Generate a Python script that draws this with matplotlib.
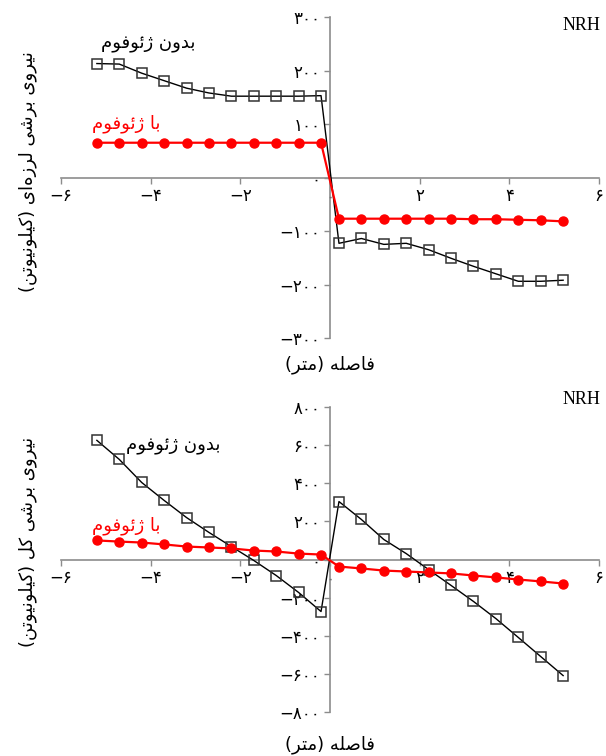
import matplotlib
matplotlib.use("Agg")
import matplotlib.pyplot as plt


# matplotlib has no arabic shaping, so letters are mapped to their
# presentation forms by hand and the string is reversed for display
FORMS = {
    'ا': ('\uFE8D', '\uFE8E', None, None),
    'ب': ('\uFE8F', '\uFE90', '\uFE91', '\uFE92'),
    'ت': ('\uFE95', '\uFE96', '\uFE97', '\uFE98'),
    'د': ('\uFEA9', '\uFEAA', None, None),
    'ر': ('\uFEAD', '\uFEAE', None, None),
    'ز': ('\uFEAF', '\uFEB0', None, None),
    'ژ': ('\uFB8A', '\uFB8B', None, None),
    'ش': ('\uFEB5', '\uFEB6', '\uFEB7', '\uFEB8'),
    'ص': ('\uFEB9', '\uFEBA', '\uFEBB', '\uFEBC'),
    'ف': ('\uFED1', '\uFED2', '\uFED3', '\uFED4'),
    'ک': ('\uFB8E', '\uFB8F', '\uFB90', '\uFB91'),
    'ل': ('\uFEDD', '\uFEDE', '\uFEDF', '\uFEE0'),
    'م': ('\uFEE1', '\uFEE2', '\uFEE3', '\uFEE4'),
    'ن': ('\uFEE5', '\uFEE6', '\uFEE7', '\uFEE8'),
    'ه': ('\uFEE9', '\uFEEA', '\uFEEB', '\uFEEC'),
    'و': ('\uFEED', '\uFEEE', None, None),
    'ی': ('\uFBFC', '\uFBFD', '\uFBFE', '\uFBFF'),
    'ئ': ('\uFE89', '\uFE8A', '\uFE8B', '\uFE8C'),
}
MIRROR = {'(': ')', ')': '('}
PERSIAN_DIGITS = str.maketrans('0123456789-', '۰۱۲۳۴۵۶۷۸۹\u2212')


def fa(text):
    out = []
    for i, c in enumerate(text):
        if c == '\u200c':
            continue
        if c not in FORMS:
            out.append(MIRROR.get(c, c))
            continue
        prev = text[i - 1] if i > 0 else None
        nxt = text[i + 1] if i + 1 < len(text) else None
        join_prev = prev in FORMS and FORMS[prev][2] is not None
        join_next = nxt in FORMS and FORMS[c][2] is not None
        iso, fin, ini, med = FORMS[c]
        if join_prev and join_next:
            out.append(med)
        elif join_prev:
            out.append(fin)
        elif join_next:
            out.append(ini)
        else:
            out.append(iso)
    return ''.join(reversed(out))


def num(v):
    return str(int(v)).translate(PERSIAN_DIGITS)


distance = [-5.2, -4.7, -4.2, -3.7, -3.2, -2.7, -2.2, -1.7, -1.2, -0.7, -0.2,
            0.2, 0.7, 1.2, 1.7, 2.2, 2.7, 3.2, 3.7, 4.2, 4.7, 5.2]

seismic_no_geofoam = [213, 212, 195, 181, 167, 158, 152, 152, 152, 152, 153,
                      -123, -114, -125, -123, -135, -151, -166, -180, -194, -194, -192]
seismic_geofoam = [65, 65, 65, 65, 65, 65, 65, 65, 65, 65, 65,
                   -77, -77, -77, -77, -77, -77, -78, -78, -79, -80, -82]

total_no_geofoam = [625, 525, 404, 310, 220, 142, 68, -5, -84, -173, -273,
                    304, 210, 105, 31, -53, -136, -220, -310, -409, -509, -609]
total_geofoam = [100, 94, 89, 79, 68, 63, 58, 47, 42, 31, 26,
                 -37, -47, -58, -63, -68, -73, -84, -94, -105, -115, -126]

x_ticks = [-6, -4, -2, 0, 2, 4, 6]
top_yticks = [-300, -200, -100, 0, 100, 200, 300]
bottom_yticks = [-800, -600, -400, -200, 0, 200, 400, 600, 800]

label_no = 'بدون ژئوفوم'
label_with = 'با ژئوفوم'
xlabel = 'فاصله (متر)'
top_ylabel = 'نیروی برشی لرزه‌ای (کیلونیوتن)'
bottom_ylabel = 'نیروی برشی کل (کیلونیوتن)'

AR = ['DejaVu Sans']
W, H = 606, 756
fig = plt.figure(figsize=(W / 100, H / 100), dpi=100)


def make_axes(rect, yticks, black, red, txt_no, txt_with):
    ax = fig.add_axes(rect)
    ax.plot(distance, black, color='black', lw=1.0, marker='s', ms=6.5,
            mfc='none', mec='#333333', mew=1.1, zorder=3)
    ax.plot(distance, red, color='#ff0000', lw=1.6, marker='o', ms=6.5,
            mfc='#ff0000', mec='#ff0000', zorder=4)
    ax.set_xlim(-6, 6)
    ax.set_ylim(yticks[0], yticks[-1])
    for s in ('top', 'right'):
        ax.spines[s].set_visible(False)
    for s in ('left', 'bottom'):
        ax.spines[s].set_position(('data', 0))
        ax.spines[s].set_color('#8c8c8c')
        ax.spines[s].set_linewidth(1.2)
    ax.set_xticks(x_ticks)
    ax.set_xticklabels([num(t) for t in x_ticks], family=AR, fontsize=12)
    ax.set_yticks(yticks)
    ax.set_yticklabels([num(t) for t in yticks], family=AR, fontsize=12)
    ax.tick_params(axis='both', direction='out', length=4, width=1,
                   color='#8c8c8c', pad=3)
    ax.text(*txt_no, fa(label_no), color='black', fontsize=13, family=AR,
            ha='center', va='center')
    ax.text(*txt_with, fa(label_with), color='#ff0000', fontsize=13, family=AR,
            ha='center', va='center')
    return ax


make_axes([61 / W, 1 - 338 / H, 538 / W, 321 / H], top_yticks,
          seismic_no_geofoam, seismic_geofoam, (-4.05, 249), (-4.55, 100))
make_axes([61 / W, 1 - 712 / H, 538 / W, 305 / H], bottom_yticks,
          total_no_geofoam, total_geofoam, (-3.5, 598), (-4.55, 175))

for y in (26, 400):
    fig.text(600 / W, 1 - y / H, 'NRH', family='Liberation Serif', fontsize=13,
             ha='right', va='center')
for y in (365, 745):
    fig.text(330 / W, 1 - y / H, fa(xlabel), family=AR, fontsize=13,
             ha='center', va='center')
fig.text(28 / W, 1 - 172 / H, fa(top_ylabel), family=AR, fontsize=13,
         rotation=90, ha='center', va='center')
fig.text(28 / W, 1 - 542 / H, fa(bottom_ylabel), family=AR, fontsize=13,
         rotation=90, ha='center', va='center')

fig.savefig('out.png', dpi=100)
